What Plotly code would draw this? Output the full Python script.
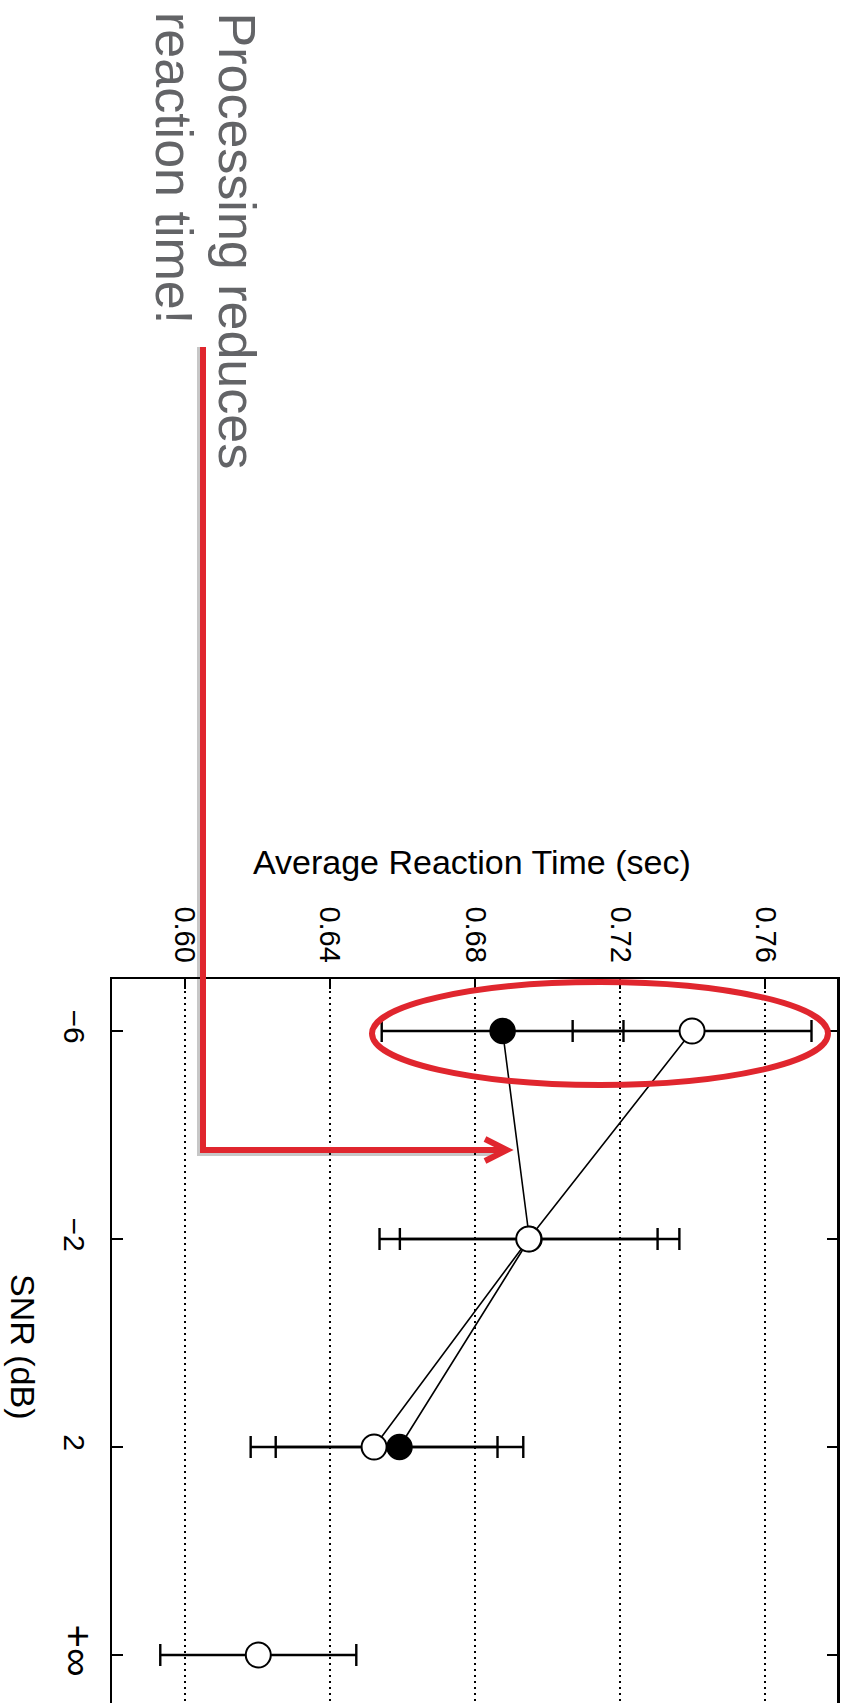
import plotly.graph_objects as go

# ---------------- data ----------------
snr_labels = ["\u22126", "\u22122", "2",
              "<span style='font-size:40px'>+\u221e</span>"]
snr_pos = [0, 1, 2, 3]

# processed (filled markers): -6, -2, 2
proc_pos = [0, 1, 2]
proc_rt = [0.6876, 0.6950, 0.6592]
proc_err = [0.0333, 0.0413, 0.0341]

# unprocessed (open markers): -6, -2, 2 (connected)
unproc_pos = [0, 1, 2]
unproc_rt = [0.7398, 0.6948, 0.6522]
unproc_err = [0.0329, 0.0355, 0.0340]

# unprocessed at +inf (not connected)
inf_pos = [3]
inf_rt = [0.6203]
inf_err = [0.0270]

x_ticks = [0.60, 0.64, 0.68, 0.72, 0.76]
x_ticktext = ["0.60", "0.64", "0.68", "0.72", "0.76"]

# ---------------- layout geometry ----------------
W, H = 844, 1703
ML, MR, MT, MB = 112, 6, 979, 0
PW = W - ML - MR
PH = H - MT - MB


def px(x):
    return (x - ML) / PW


def py(y):
    return (H - MB - y) / PH


FONT = "Liberation Sans, Arial, Helvetica, sans-serif"
RED = "#e0262e"
GRAY_TXT = "#636467"

fig = go.Figure()

err_style = dict(type="data", thickness=2.4, width=11, color="black")

fig.add_trace(go.Scatter(
    x=proc_rt, y=proc_pos, mode="lines+markers",
    line=dict(color="black", width=1.6),
    marker=dict(symbol="circle", size=25, color="black",
                line=dict(color="black", width=1.5)),
    error_x=dict(array=proc_err, **err_style),
    showlegend=False, hoverinfo="skip",
))
fig.add_trace(go.Scatter(
    x=unproc_rt, y=unproc_pos, mode="lines+markers",
    line=dict(color="black", width=1.6),
    marker=dict(symbol="circle", size=25, color="white",
                line=dict(color="black", width=2)),
    error_x=dict(array=unproc_err, **err_style),
    showlegend=False, hoverinfo="skip",
))
fig.add_trace(go.Scatter(
    x=inf_rt, y=inf_pos, mode="markers",
    marker=dict(symbol="circle", size=25, color="white",
                line=dict(color="black", width=2)),
    error_x=dict(array=inf_err, **err_style),
    showlegend=False, hoverinfo="skip",
))

shapes = []
# right frame edge (explicit)
shapes.append(dict(type="line", xref="paper", yref="paper",
                   x0=1, x1=1, y0=0, y1=1,
                   line=dict(color="black", width=2), layer="above"))
# red ellipse around the -6 dB results
shapes.append(dict(type="circle", xref="paper", yref="paper",
                   x0=px(372), x1=px(828), y0=py(1085), y1=py(982),
                   line=dict(color=RED, width=6), layer="above"))
# arrow shadow
sh = 3
shapes.append(dict(type="path", xref="paper", yref="paper",
                   path=f"M {px(203-sh)},{py(347)} L {px(203-sh)},{py(1150+sh)} L {px(500)},{py(1150+sh)}",
                   line=dict(color="rgba(0,0,0,0.22)", width=6), layer="above"))
# arrow body
shapes.append(dict(type="path", xref="paper", yref="paper",
                   path=f"M {px(203)},{py(347)} L {px(203)},{py(1150)} L {px(506)},{py(1150)}",
                   line=dict(color=RED, width=6), layer="above"))
# arrow head
shapes.append(dict(type="path", xref="paper", yref="paper",
                   path=f"M {px(485)},{py(1139)} L {px(507)},{py(1150)} L {px(485)},{py(1161)}",
                   line=dict(color=RED, width=6), layer="above"))

annotations = [
    dict(text="Processing reduces", textangle=90, xref="paper", yref="paper",
         x=px(236), y=py(10), xanchor="center", yanchor="top", showarrow=False,
         font=dict(family=FONT, size=52, color=GRAY_TXT)),
    dict(text="reaction time!", textangle=90, xref="paper", yref="paper",
         x=px(174), y=py(10), xanchor="center", yanchor="top", showarrow=False,
         font=dict(family=FONT, size=52, color=GRAY_TXT)),
    dict(text="Average Reaction Time (sec)", xref="paper", yref="paper",
         x=px(472), y=py(862), xanchor="center", yanchor="middle", showarrow=False,
         font=dict(family=FONT, size=34, color="black")),
    dict(text="SNR (dB)", textangle=90, xref="paper", yref="paper",
         x=px(23), y=py(1346), xanchor="center", yanchor="middle", showarrow=False,
         font=dict(family=FONT, size=34, color="black")),
]

fig.update_layout(
    width=W, height=H,
    margin=dict(l=ML, r=MR, t=MT, b=MB, pad=0),
    paper_bgcolor="white", plot_bgcolor="white",
    shapes=shapes, annotations=annotations,
    font=dict(family=FONT, color="black"),
)

fig.update_xaxes(
    range=[0.58, 0.78], side="top",
    tickmode="array", tickvals=x_ticks, ticktext=x_ticktext,
    tickangle=90, ticks="inside", ticklen=10, tickwidth=2, tickcolor="black",
    tickfont=dict(family=FONT, size=29, color="black"),
    ticklabelstandoff=4,
    showgrid=True, gridcolor="black", gridwidth=1.5, griddash="2px,4px",
    showline=True, linewidth=2, linecolor="black", mirror=False,
    zeroline=False,
)
fig.update_yaxes(
    range=[3 + (H - MB - 1655) / 208.0, -0.25],
    tickmode="array", tickvals=snr_pos, ticktext=snr_labels,
    tickangle=90, ticks="inside", ticklen=11, tickwidth=2, tickcolor="black",
    tickfont=dict(family=FONT, size=30, color="black"),
    ticklabelstandoff=10,
    showgrid=False, showline=True, linewidth=2, linecolor="black",
    mirror="ticks", zeroline=False,
)

fig.write_html(
    "out.html",
    config={"displayModeBar": False},
    post_script="document.body.style.margin='0';document.body.style.overflow='hidden';",
)
